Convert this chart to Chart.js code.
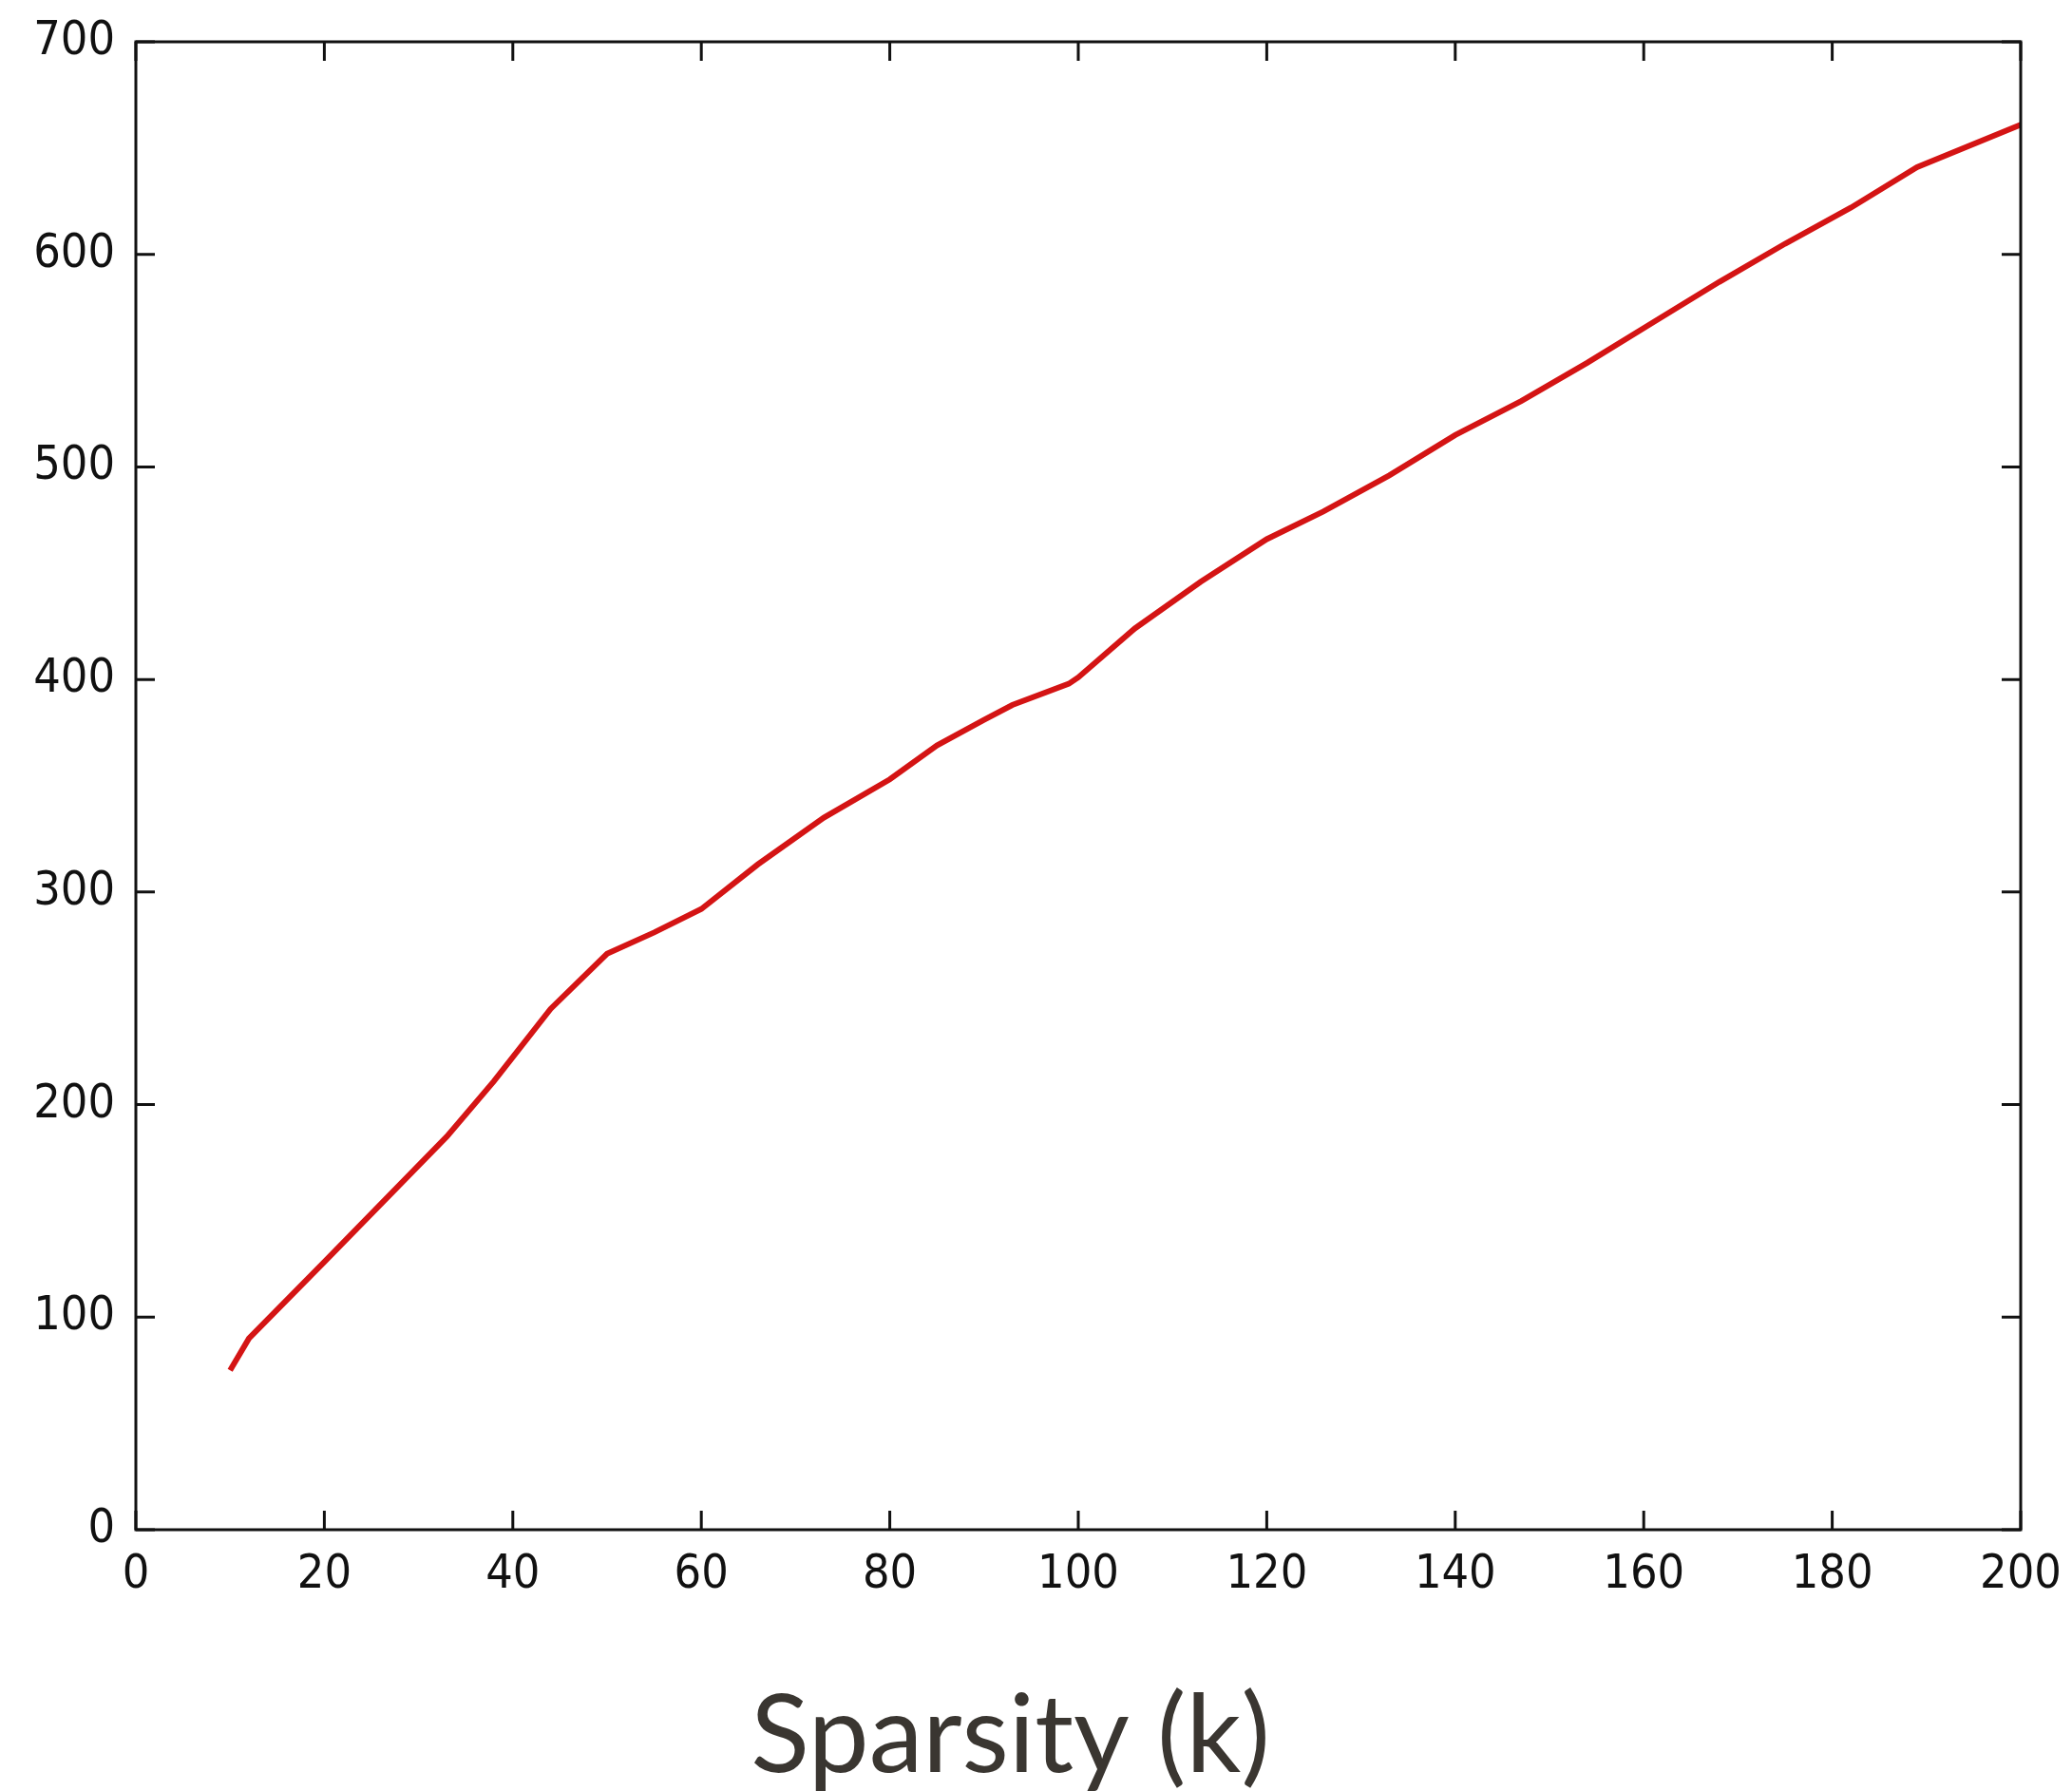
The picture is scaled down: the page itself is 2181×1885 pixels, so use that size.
<!DOCTYPE html>
<html>
<head>
<meta charset="utf-8">
<script src="https://cdn.jsdelivr.net/npm/chart.js@4.4.1/dist/chart.umd.min.js"></script>
<style>
  html, body { margin: 0; padding: 0; background: #fff; }
  #wrap { width: 2181px; height: 1885px; }
</style>
</head>
<body>
<div id="wrap"><canvas id="chart"></canvas></div>
<script>
// sparsity k vs value
const kValues = [10, 12, 20, 33, 38, 44, 50, 55, 60, 66, 73, 80, 85, 90, 93, 99, 100,
                 106, 113, 120, 126, 133, 140, 147, 154, 161, 168, 175, 182, 189, 200];
const yValues = [75, 90, 126, 185, 211, 245, 271, 281, 292, 313, 335, 353, 369, 381, 388, 398, 401,
                 424, 446, 466, 479, 496, 515, 531, 549, 568, 587, 605, 622, 641, 661];
const xTicks = [0, 20, 40, 60, 80, 100, 120, 140, 160, 180, 200];
const yTicks = [0, 100, 200, 300, 400, 500, 600, 700];

const tickFont = { family: "'Liberation Sans Narrow', 'DejaVu Sans Condensed', sans-serif", size: 50 };

// box round the plot with inward ticks on all four sides
const frame = {
    id: 'frame',
    afterDraw(chart) {
        const { ctx, chartArea: a, scales } = chart;
        const len = 20;
        ctx.save();
        ctx.strokeStyle = '#111';
        ctx.lineWidth = 3;
        ctx.strokeRect(a.left, a.top, a.right - a.left, a.bottom - a.top);
        ctx.beginPath();
        xTicks.forEach(v => {
            const x = scales.x.getPixelForValue(v);
            ctx.moveTo(x, a.bottom); ctx.lineTo(x, a.bottom - len);
            ctx.moveTo(x, a.top); ctx.lineTo(x, a.top + len);
        });
        yTicks.forEach(v => {
            const y = scales.y.getPixelForValue(v);
            ctx.moveTo(a.left, y); ctx.lineTo(a.left + len, y);
            ctx.moveTo(a.right, y); ctx.lineTo(a.right - len, y);
        });
        ctx.stroke();
        ctx.restore();
    }
};

new Chart(document.getElementById('chart'), {
    type: 'line',
    data: {
        datasets: [{
            data: kValues.map((k, i) => ({ x: k, y: yValues[i] })),
            borderColor: '#d41414',
            borderWidth: 6,
            pointRadius: 0,
            tension: 0,
            fill: false
        }]
    },
    options: {
        responsive: true,
        maintainAspectRatio: false,
        animation: false,
        layout: { padding: { left: 0, right: 54, top: 38, bottom: 0 } },
        scales: {
            x: {
                type: 'linear',
                min: 0, max: 200,
                afterBuildTicks: s => { s.ticks = xTicks.map(v => ({ value: v })); },
                afterFit: s => { s.height = 161; },
                grid: { display: false },
                border: { display: false },
                ticks: { font: tickFont, color: '#111', padding: 10, maxRotation: 0 }
            },
            y: {
                min: 0, max: 700,
                afterBuildTicks: s => { s.ticks = yTicks.map(v => ({ value: v })); },
                afterFit: s => { s.width = 143; },
                grid: { display: false },
                border: { display: false },
                ticks: { font: tickFont, color: '#111', padding: 14 }
            }
        },
        plugins: {
            legend: { display: false },
            tooltip: { enabled: false },
            title: {
                display: true,
                position: 'bottom',
                text: 'Sparsity (k)',
                color: '#3a3631',
                font: { family: 'Lato', size: 114, weight: 'normal', lineHeight: 1.0 },
                padding: 0
            }
        }
    },
    plugins: [frame]
});
</script>
</body>
</html>
